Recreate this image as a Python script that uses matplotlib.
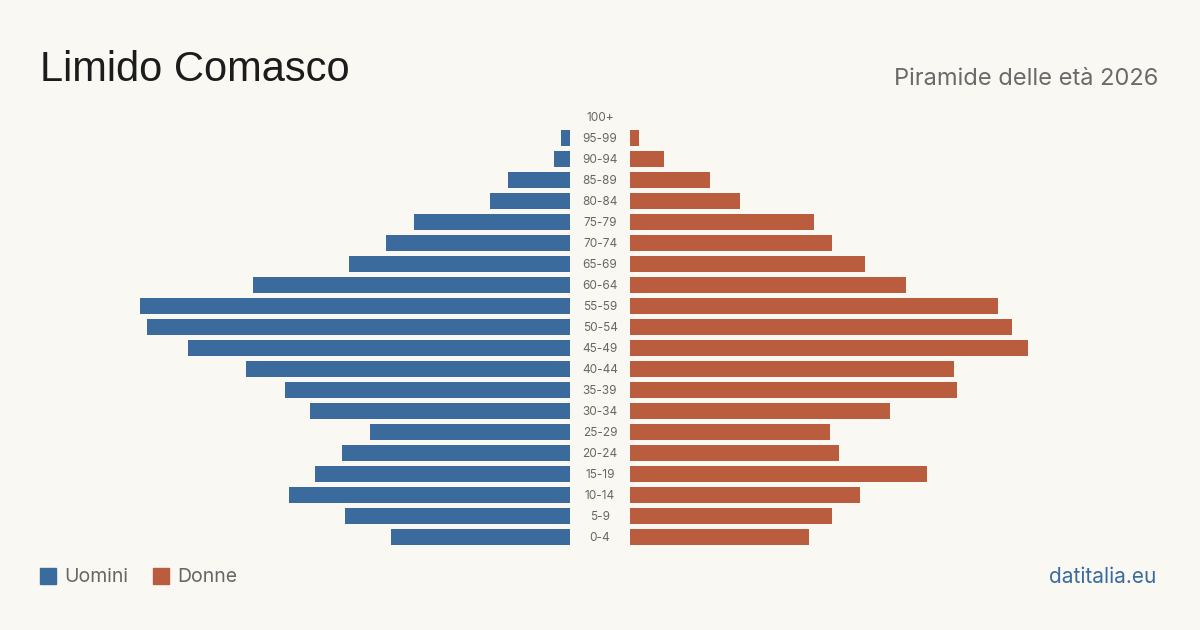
import matplotlib.pyplot as plt
from matplotlib.patches import Rectangle
from matplotlib.transforms import blended_transform_factory

plt.rcParams['font.family'] = ['Inter', 'DejaVu Sans']

# age classes, bottom to top
ages = ['0-4', '5-9', '10-14', '15-19', '20-24', '25-29', '30-34', '35-39',
        '40-44', '45-49', '50-54', '55-59', '60-64', '65-69', '70-74',
        '75-79', '80-84', '85-89', '90-94', '95-99', '100+']
# values (bar lengths)
uomini = [179, 225, 281, 255, 228, 200, 260, 285, 324, 382, 423, 430,
          317, 221, 184, 156, 80, 62, 16, 9, 0]
donne = [179, 202, 230, 297, 209, 200, 260, 327, 324, 398, 382, 368,
         276, 235, 202, 184, 110, 80, 34, 9, 0]

BG = '#f9f8f3'
BLUE = '#3b6b9c'
ORANGE = '#b95d3e'

W, H = 1200, 630
fig = plt.figure(figsize=(12, 6.3), dpi=100, facecolor=BG)

y_bot = (H - 547.5) / H
y_h = (547.5 - 106.5) / H
span = 440

axl = fig.add_axes([(570 - span) / W, y_bot, span / W, y_h])
axr = fig.add_axes([630 / W, y_bot, span / W, y_h])
pos = list(range(len(ages)))
axl.barh(pos, uomini, height=0.8, color=BLUE)
axr.barh(pos, donne, height=0.8, color=ORANGE)
axl.set_xlim(span, 0)
axr.set_xlim(0, span)
for ax in (axl, axr):
    ax.set_ylim(-0.5, len(ages) - 0.5)
    ax.axis('off')
    ax.set_facecolor('none')

tr = blended_transform_factory(fig.transFigure, axl.transData)
for i, a in enumerate(ages):
    axl.text(600 / W, i - 0.03, a, transform=tr, ha='center', va='center',
             fontsize=8.5, color='#666666', clip_on=False)

fig.text(40 / W, 1 - 81 / H, 'Limido Comasco', fontsize=30, color='#1c1c1c',
         ha='left', va='baseline', family=['Liberation Sans', 'DejaVu Sans'])
fig.text(1158 / W, 1 - 85 / H, 'Piramide delle età 2026', fontsize=17,
         color='#6a6a6a', ha='right', va='baseline')

# legend
fig.patches.append(Rectangle((40 / W, 1 - 584 / H), 16 / W, 16 / H,
                             transform=fig.transFigure, color=BLUE))
fig.text(64 / W, 1 - 577 / H, 'Uomini', fontsize=14, color='#666666',
         ha='left', va='center')
fig.patches.append(Rectangle((153 / W, 1 - 584 / H), 16 / W, 16 / H,
                             transform=fig.transFigure, color=ORANGE))
fig.text(177 / W, 1 - 577 / H, 'Donne', fontsize=14, color='#666666',
         ha='left', va='center')

fig.text(1156 / W, 1 - 577 / H, 'datitalia.eu', fontsize=15, color=BLUE,
         ha='right', va='center')

fig.savefig('out.png', dpi=100, facecolor=BG)
